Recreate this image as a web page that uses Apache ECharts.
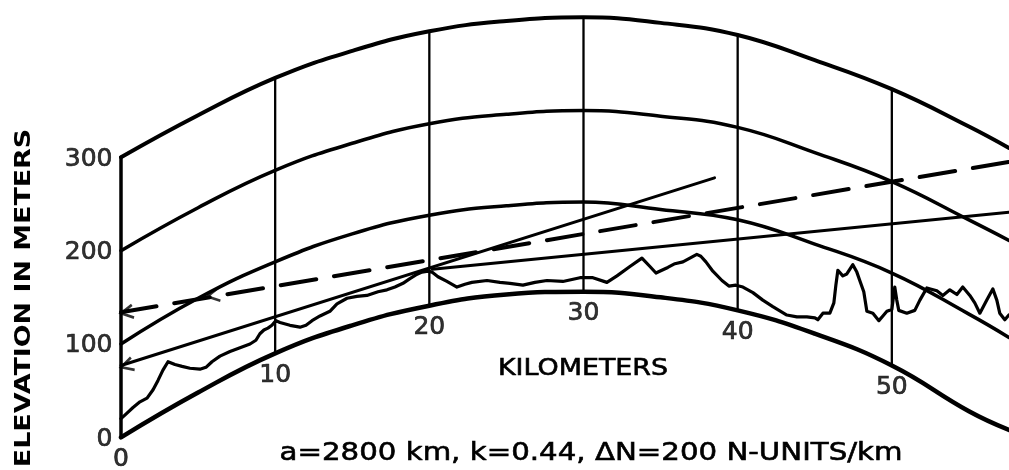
<!DOCTYPE html>
<html><head><meta charset="utf-8">
<script src="https://cdn.jsdelivr.net/npm/echarts@6/dist/echarts.min.js"></script>
<style>html,body{margin:0;padding:0;background:#fff}#c{width:1009px;height:470px}</style>
</head><body><div id="c"></div>
<script>
// distance (km) of the points read on the earth-curvature arcs
const curveKm  = [0, 5, 10, 15, 20, 25, 30, 35, 40, 45, 50, 55, 57.6];
// elevation (m) of the four curved-earth reference arcs
const earth0   = [0, 48, 90, 120, 141, 153, 156, 150, 136, 111, 77, 28, 8];
const earth100 = [100, 149, 188, 218, 238, 248, 252, 244, 233, 207, 176, 132, 107];
const earth200 = [200, 246, 286, 315, 336, 346, 350, 344, 332, 305, 274, 233, 211];
const earth300 = [300, 345, 385, 414, 435, 446, 450, 444, 431, 404, 373, 333, 310];

// terrain profile [km, m]
const terrain = [[0,20],[0.39,26],[0.78,32],[1.23,38],[1.69,42],[2.08,51],[2.4,61],[2.72,72],[3.05,81],[3.5,78],[3.96,76],[4.47,74],[5.12,73],[5.51,75],[5.9,81],[6.42,87],[7.07,92],[7.72,96],[8.37,100],[8.75,104],[9.01,111],[9.27,115],[9.53,117],[9.79,120],[10.05,125],[10.31,123],[10.96,120],[11.61,118],[12.0,120],[12.39,125],[12.91,130],[13.55,135],[14.01,143],[14.66,149],[15.3,151],[15.95,152],[16.67,156],[17.25,158],[17.77,161],[18.29,165],[18.74,170],[19.13,174],[19.52,177],[19.91,178],[20.17,177],[20.56,172],[21.14,167],[21.79,161],[22.31,164],[22.76,166],[23.74,168],[24.58,166],[25.23,165],[26.07,163],[26.85,166],[27.63,168],[28.66,167],[29.77,171],[30.61,171],[31.52,166],[32.17,173],[33.01,183],[33.79,192],[34.31,183],[34.7,176],[35.08,179],[35.47,182],[35.93,186],[36.45,188],[36.9,192],[37.35,196],[37.61,194],[37.94,188],[38.39,178],[38.98,168],[39.43,162],[39.88,163],[40.34,161],[40.99,155],[41.63,147],[42.28,140],[43.19,131],[43.84,129],[44.49,129],[45.01,128],[45.2,126],[45.53,133],[45.98,133],[46.24,144],[46.37,163],[46.5,179],[46.82,173],[47.08,175],[47.47,185],[47.73,177],[47.92,168],[48.18,156],[48.38,135],[48.77,133],[49.16,125],[49.42,130],[49.68,135],[50.0,137],[50.19,161],[50.32,147],[50.45,136],[50.97,133],[51.49,136],[51.82,147],[52.27,160],[52.92,157],[53.31,152],[53.76,158],[54.22,153],[54.6,161],[55.06,152],[55.38,144],[55.71,133],[56.16,147],[56.55,159],[56.81,147],[57.0,133],[57.33,126],[57.59,131]];

// ray lines [km, m]
const rayDashed = [[0, 134], [57.6, 295]];
const raySolidA = [[0, 77], [38.5, 278]];
const raySolidB = [[20.2, 180], [57.6, 241]];
// arrowheads [km, m]
const arrowMarks = [[0, 134], [5.6, 152], [0, 77]];
const arrowAngles = [10, 10, 17];

// tick values / labels
const kmTicks = [0, 10, 20, 30, 40, 50];
const kmTickLabels = ['0', '10', '20', '30', '40', '50'];
const elevTicks = [0, 100, 200, 300];
const elevTickLabels = ['0', '100', '200', '300'];

const zip = (xs, ys) => xs.map((x, i) => [x, ys[i]]);
const INK = '#000000';

function curve(ys, w) {
  return { type: 'line', data: zip(curveKm, ys), smooth: 0.45, showSymbol: false, symbol: 'none',
    clip: false, silent: true, lineStyle: { color: INK, width: w, cap: 'round', join: 'round' } };
}
function seg(data, w, dash) {
  return { type: 'line', data: data, showSymbol: false, symbol: 'none', clip: false, silent: true,
    lineStyle: { color: INK, width: w, type: dash || 'solid', cap: 'round', join: 'round' } };
}

const series = [
  curve(earth0, 4.5), curve(earth100, 3.5), curve(earth200, 3.5), curve(earth300, 4)
];
// left edge
series.push(seg([[0, earth0[0]], [0, earth300[0]]], 3.5));
// vertical grid lines
kmTicks.filter(k => k > 0).forEach(k => {
  const i = curveKm.indexOf(k);
  series.push(seg([[k, earth0[i]], [k, earth300[i]]], 2.3));
});
series.push(seg(terrain, 3.2));
series.push(seg(raySolidA, 3));
series.push(seg(raySolidB, 3));
series.push(seg(rayDashed, 4, [36, 18]));
// arrowheads
series.push({ type: 'scatter', silent: true, clip: false,
  data: arrowMarks.map((p, i) => ({ value: p, symbolRotate: arrowAngles[i] })),
  symbol: 'path://M12,0L0,6L12,12', symbolSize: [12, 13], symbolOffset: [6, 0],
  itemStyle: { color: 'rgba(0,0,0,0)', borderColor: INK, borderWidth: 2.6 } });
const labelFont = { color: INK, fontSize: 25, fontFamily: 'DejaVu Sans', textBorderColor: INK, textBorderWidth: 0.7 };
// km tick labels
series.push({ type: 'scatter', silent: true, clip: false, symbolSize: 1,
  itemStyle: { color: 'rgba(0,0,0,0)' },
  data: kmTicks.map((k, i) => ({ value: [k, earth0[curveKm.indexOf(k)]], label: { formatter: kmTickLabels[i] } })),
  label: Object.assign({ show: true, position: 'bottom', distance: 9 }, labelFont) });
// elevation tick labels
series.push({ type: 'scatter', silent: true, clip: false, symbolSize: 1,
  itemStyle: { color: 'rgba(0,0,0,0)' },
  data: elevTicks.map((v, i) => ({ value: [0, v], label: { formatter: elevTickLabels[i] } })),
  label: Object.assign({ show: true, position: 'left', distance: 8, offset: [0, 2] }, labelFont) });

const chart = echarts.init(document.getElementById('c'), null, { renderer: 'canvas' });
chart.setOption({
  animation: false,
  backgroundColor: '#fff',
  grid: { left: 121, right: 0, top: 0, bottom: 0 },
  xAxis: { type: 'value', min: 0, max: 57.6, show: false },
  yAxis: { type: 'value', min: -35, max: 468.5, show: false },
  series: series,
  graphic: [
    { type: 'text', x: 25, y: 298, rotation: Math.PI / 2, scaleX: 1.28, silent: true,
      style: { text: 'ELEVATION IN METERS', fontSize: 21, fontWeight: 'bold', fontFamily: 'DejaVu Sans', fill: INK,
        align: 'center', verticalAlign: 'middle', textAlign: 'center', textVerticalAlign: 'middle' } },
    { type: 'text', x: 583, y: 369, scaleX: 1.17, silent: true,
      style: { text: 'KILOMETERS', fontSize: 23, fontFamily: 'DejaVu Sans', fill: INK, stroke: INK, lineWidth: 0.6,
        align: 'center', verticalAlign: 'middle', textAlign: 'center', textVerticalAlign: 'middle' } },
    { type: 'text', x: 591, y: 453, scaleX: 1.17, silent: true,
      style: { text: 'a=2800 km, k=0.44, ΔN=200 N-UNITS/km', fontSize: 25, fontFamily: 'DejaVu Sans', fill: INK, stroke: INK, lineWidth: 0.6,
        align: 'center', verticalAlign: 'middle', textAlign: 'center', textVerticalAlign: 'middle' } }
  ]
});
</script></body></html>
